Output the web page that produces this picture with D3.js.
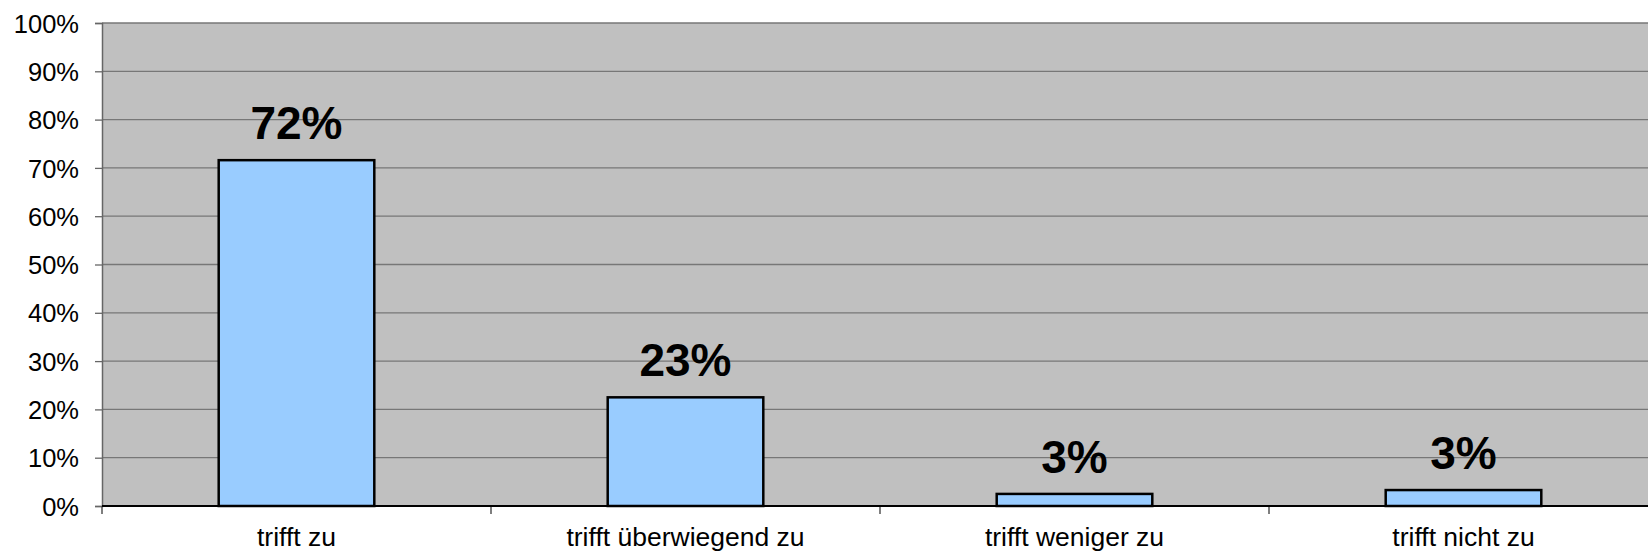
<!DOCTYPE html>
<html>
<head>
<meta charset="utf-8">
<script src="https://cdn.jsdelivr.net/npm/d3@7"></script>
<style>
html,body{margin:0;padding:0;background:#fff;overflow:hidden;}
svg{display:block;font-family:Arial,"Liberation Sans",sans-serif;}
</style>
</head>
<body>
<svg id="chart" width="1648" height="552"></svg>
<script>
const categories = ["trifft zu", "trifft überwiegend zu", "trifft weniger zu", "trifft nicht zu"];
const values = [0.716, 0.225, 0.025, 0.033];
const valueLabels = ["72%", "23%", "3%", "3%"];
const yTicks = [0, 0.1, 0.2, 0.3, 0.4, 0.5, 0.6, 0.7, 0.8, 0.9, 1.0];

const svg = d3.select("#chart");
const m = {left: 102, top: 23, right: 1658, bottom: 506};

const x = d3.scaleBand().domain(categories).range([m.left, m.right]).paddingInner(0.6).paddingOuter(0.3);
const y = d3.scaleLinear().domain([0, 1]).range([m.bottom, m.top]);

// plot background
svg.append("rect").attr("x", m.left).attr("y", m.top)
  .attr("width", m.right - m.left).attr("height", m.bottom - m.top)
  .attr("fill", "#c0c0c0");

// gridlines
svg.append("g").selectAll("line").data(yTicks.filter(d => d > 0)).join("line")
  .attr("x1", m.left).attr("x2", m.right)
  .attr("y1", d => y(d)).attr("y2", d => y(d))
  .attr("stroke", "#777").attr("stroke-width", 1.3);

// y axis
const yAxis = d3.axisLeft(y).tickValues(yTicks).tickFormat(d3.format(".0%")).tickSize(7).tickPadding(16);
const gy = svg.append("g").attr("transform", `translate(${m.left},0)`).call(yAxis);
gy.select(".domain").attr("stroke", "#666").attr("stroke-width", 1.5);
gy.selectAll(".tick line").attr("stroke", "#666").attr("stroke-width", 1.3);
gy.selectAll(".tick text").attr("font-size", 25.5).attr("fill", "#000")
  .attr("font-family", "Arial, 'Liberation Sans', sans-serif").attr("dy", "0.36em");

// bars
svg.append("g").selectAll("rect").data(values).join("rect")
  .attr("x", (d, i) => x(categories[i]))
  .attr("y", d => y(d))
  .attr("width", x.bandwidth())
  .attr("height", d => y(0) - y(d))
  .attr("fill", "#99ccff").attr("stroke", "#000").attr("stroke-width", 2.5);

// value labels
svg.append("g").selectAll("text").data(values).join("text")
  .attr("x", (d, i) => x(categories[i]) + x.bandwidth() / 2)
  .attr("y", d => y(d) - 21)
  .attr("text-anchor", "middle")
  .attr("font-size", 46).attr("font-weight", "bold").attr("fill", "#000")
  .text((d, i) => valueLabels[i]);

// x axis
const step = x.step();
const bounds = d3.range(categories.length + 1).map(i => m.left + i * step);
svg.append("g").selectAll("line").data(bounds).join("line")
  .attr("x1", d => d).attr("x2", d => d)
  .attr("y1", m.bottom).attr("y2", m.bottom + 8)
  .attr("stroke", "#555").attr("stroke-width", 1.5);
svg.append("line").attr("x1", m.left).attr("x2", m.right)
  .attr("y1", m.bottom).attr("y2", m.bottom)
  .attr("stroke", "#000").attr("stroke-width", 2);

svg.append("g").selectAll("text").data(categories).join("text")
  .attr("x", d => x(d) + x.bandwidth() / 2)
  .attr("y", 545.5)
  .attr("text-anchor", "middle")
  .attr("font-size", 26.5).attr("fill", "#000")
  .text(d => d);
</script>
</body>
</html>
